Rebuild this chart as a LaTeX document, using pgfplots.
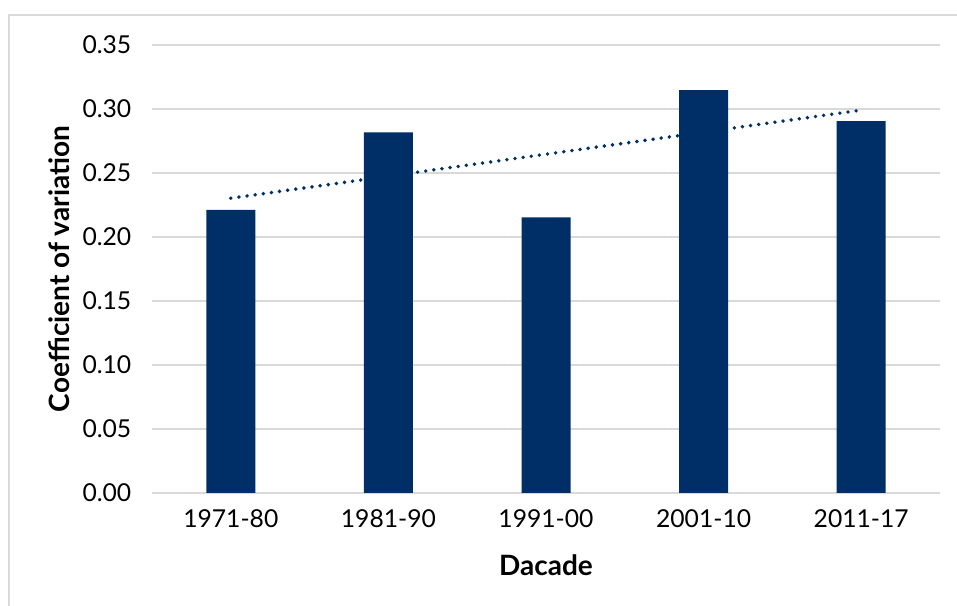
\documentclass[border=0pt]{standalone}
\usepackage{pgfplots}
\pgfplotsset{compat=1.18}
\usepackage{fontspec}
\setmainfont{Lato}
\definecolor{barblue}{RGB}{0,46,102}
\definecolor{gridgrey}{RGB}{217,217,217}
\begin{document}
\begin{tikzpicture}
\useasboundingbox (0,0) rectangle (717.75pt,454.5pt);
\draw[gridgrey,line width=1.5pt] (6.75pt,0) -- (6.75pt,443.25pt) -- (717.75pt,443.25pt);
\begin{axis}[
  at={(114pt,84.75pt)}, anchor=south west,
  scale only axis, width=591pt, height=336pt,
  xmin=0.5, xmax=5.5, ymin=0, ymax=0.35,
  axis x line*=bottom, axis y line*=left,
  x axis line style={gridgrey,line width=1.1pt,-},
  y axis line style={draw=none},
  xtick={1,2,3,4,5},
  xticklabels={1971-80,1981-90,1991-00,2001-10,2011-17},
  ytick={0,0.05,...,0.35},
  yticklabel style={/pgf/number format/fixed,/pgf/number format/fixed zerofill,/pgf/number format/precision=2},
  /pgf/number format/assume math mode=true,
  ymajorgrids, grid style={gridgrey,line width=1.1pt},
  major tick length=0pt,
  tick label style={font=\fontsize{18.5}{21}\selectfont, black},
  xticklabel style={yshift=-9pt},
  yticklabel style={xshift=-12pt},
  xlabel={Dacade}, ylabel={Coefficient of variation},
  label style={font=\fontsize{21}{24}\selectfont\bfseries},
  xlabel style={at={(axis description cs:0.5,-0.161)},anchor=center},
  ylabel style={at={(axis description cs:-0.118,0.5)},anchor=center},
  clip=false,
]
\addplot[barblue, line width=2.9pt, line cap=round, dash pattern=on 0pt off 6.15pt] coordinates {(1,0.2303) (5,0.2991)};
\addplot[ybar, bar width=36.75pt, fill=barblue, draw=none] coordinates {
(1,0.2211) (2,0.2818) (3,0.2154) (4,0.3148) (5,0.2906)};
\end{axis}
\end{tikzpicture}
\end{document}
